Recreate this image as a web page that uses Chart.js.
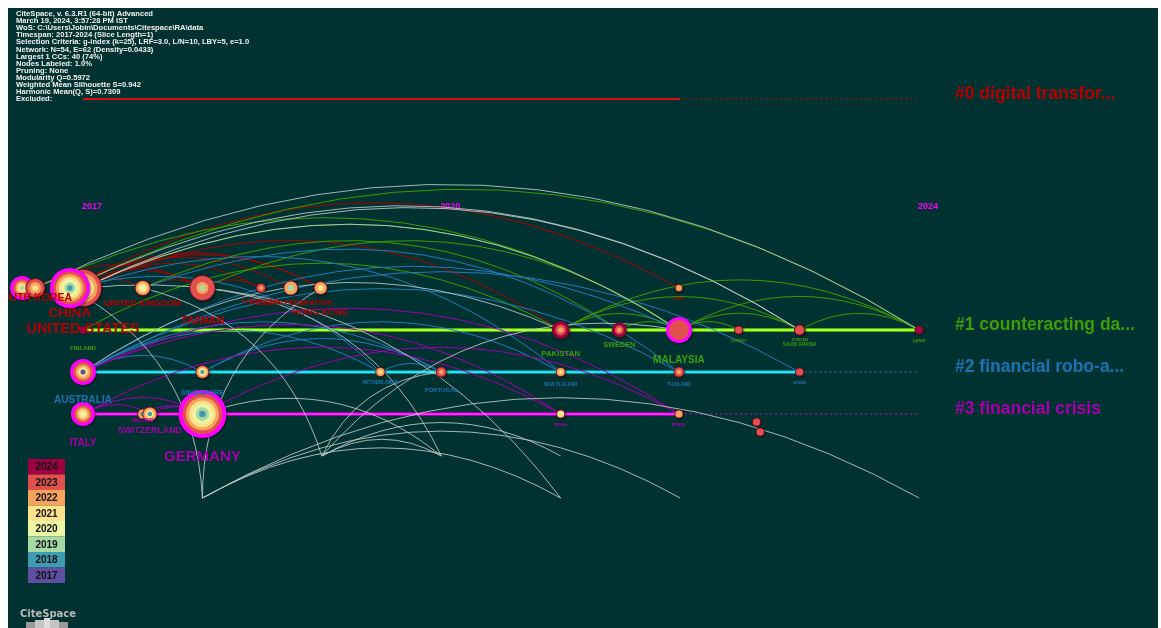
<!DOCTYPE html>
<html lang="en">
<head>
<meta charset="UTF-8">
<title>Country co-occurrence timeline 2017-2024</title>
<script src="https://cdn.jsdelivr.net/npm/chart.js"></script>
<style>
    body {
        margin: 0;
        background: #ffffff;
    }

    .chart-box {
        position: absolute;
        left: 8px;
        top: 8px;
        width: 1150px;
        height: 620px;
        background: #003232;
    }
</style>
</head>
<body>

<div class="chart-box">
    <canvas id="timelineChart"></canvas>
</div>

<script>
// time slices and their colours (oldest -> newest)
const sliceYears = [2017, 2018, 2019, 2020, 2021, 2022, 2023, 2024];
const sliceColors = ['#5e4fa2', '#3f9bb0', '#a6d9a3', '#ecf6a5', '#fde28c', '#f8a35c', '#e0514d', '#9e0142'];
const tickYears = [2017, 2020, 2024];

// clusters: label, lane, last year with a solid line
const clusterLabels = ['#0 digital transfor...', '#1 counteracting da...', '#2 financial robo-a...', '#3 financial crisis'];
const clusterLanes = [-4.5, 1, 2, 3];
const clusterSolidEnd = [2022, 2024, 2023, 2022];

// nodes (countries)
const nodeNames = ['u1', 'SOUTH KOREA', 'UNITED STATES', 'CHINA', 'UNITED KINGDOM', 'TAIWAN', 'KAZAKHSTAN',
    'RUSSIAN FEDERATION', 'HONG KONG', 'INDIA',
    'FINLAND', 'PAKISTAN', 'SWEDEN', 'MALAYSIA', 'TURKEY', 'JORDAN', 'SAUDI ARABIA', 'QATAR',
    'AUSTRALIA', 'SINGAPORE', 'NETHERLANDS', 'PORTUGAL', 'NEW ZEALAND', 'THAILAND', 'SPAIN',
    'ITALY', 'IRELAND', 'SWITZERLAND', 'GERMANY', 'ISRAEL', 'BRAZIL', 'u2', 'u3'];
const nodeYears = [2016.49, 2016.6, 2017.0, 2016.89, 2017.5, 2018.0, 2018.49,
    2018.74, 2018.99, 2021.99,
    2017.0, 2021.0, 2021.49, 2021.99, 2022.49, 2023.0, 2023.0, 2024.0,
    2017.0, 2018.0, 2019.49, 2020.0, 2021.0, 2021.99, 2023.0,
    2017.0, 2017.5, 2017.56, 2018.0, 2021.0, 2021.99, 2022.64, 2022.67];
const nodeLanes = [0, 0, 0, 0, 0, 0, 0,
    0, 0, 0,
    1, 1, 1, 1, 1, 1, 1, 1,
    2, 2, 2, 2, 2, 2, 2,
    3, 3, 3, 3, 3, 3, 3.19, 3.43];
const nodeSizes = [12, 10, 19, 20, 8, 13, 5,
    7.5, 7, 4,
    4, 9, 7.5, 13, 4.5, 5.5, 5.5, 4.5,
    13, 7, 5, 5.5, 5, 5.5, 4.5,
    12, 5.5, 7.5, 24, 4.5, 4.5, 4.5, 4.5];
// citation rings, outer (latest) to inner (earliest)
const nodeRings = [
    [2023, 2022, 2021, 2019], [2023, 2022, 2021], [2023, 2022, 2021, 2020, 2019], [2023, 2022, 2021, 2020, 2019, 2018],
    [2022, 2021, 2020], [2023, 2023, 2022, 2019], [2023, 2022], [2022, 2019], [2022, 2021], [2022],
    [2024], [2024, 2023, 2022], [2024, 2023, 2022], [2023], [2023], [2023], [2023], [2024],
    [2023, 2022, 2021, 2017], [2022, 2021, 2018], [2022, 2021], [2023, 2022], [2022, 2021], [2023, 2022], [2023],
    [2023, 2022, 2021, 2020], [2022, 2018], [2022, 2021, 2018], [2023, 2022, 2021, 2020, 2019, 2018],
    [2021], [2022], [2023], [2023]
];
const nodeBurst = [true, false, false, true, false, false, false, false, false, false,
    false, false, false, true, false, false, false, false,
    true, false, false, false, false, false, false,
    true, false, false, true, false, false, false, false];
const nodeCluster = [0, 0, 0, 0, 0, 0, 0, 0, 0, 0,
    1, 1, 1, 1, 1, 1, 1, 1,
    2, 2, 2, 2, 2, 2, 2,
    3, 3, 3, 3, 3, 3, 3, 3];

// link end points in the smaller clusters (lanes not shown)
const anchorNames = ['a1', 'a2', 'a3', 'a4', 'a5', 'a6', 'a7'];
const anchorYears = [2018, 2021, 2022, 2019, 2020, 2021, 2024];
const anchorLanes = [5, 5, 5, 4, 4, 4, 5];

// links: from, to, colour group (0-3 cluster, 4 between clusters)
const linkFrom = [
    'CHINA', 'CHINA', 'UNITED STATES', 'CHINA', 'UNITED STATES', 'CHINA', 'CHINA', 'UNITED KINGDOM', 'TAIWAN', 'UNITED STATES', 'SOUTH KOREA',
    'CHINA', 'UNITED STATES', 'SOUTH KOREA', 'UNITED KINGDOM', 'FINLAND', 'PAKISTAN', 'PAKISTAN', 'SWEDEN', 'MALAYSIA', 'MALAYSIA', 'MALAYSIA', 'SAUDI ARABIA', 'PAKISTAN', 'TAIWAN',
    'AUSTRALIA', 'AUSTRALIA', 'AUSTRALIA', 'AUSTRALIA', 'AUSTRALIA', 'AUSTRALIA', 'SINGAPORE', 'NETHERLANDS', 'UNITED STATES', 'CHINA', 'UNITED KINGDOM', 'SINGAPORE',
    'ITALY', 'ITALY', 'IRELAND', 'SWITZERLAND', 'AUSTRALIA', 'GERMANY', 'ITALY', 'AUSTRALIA',
    'CHINA', 'UNITED STATES', 'UNITED STATES', 'SOUTH KOREA', 'CHINA', 'a1', 'a1', 'a1', 'a4', 'a4', 'a4', 'a4', 'a1', 'TAIWAN', 'UNITED KINGDOM', 'GERMANY', 'AUSTRALIA', 'UNITED STATES'
];
const linkTo = [
    'UNITED KINGDOM', 'TAIWAN', 'KAZAKHSTAN', 'RUSSIAN FEDERATION', 'HONG KONG', 'HONG KONG', 'INDIA', 'TAIWAN', 'KAZAKHSTAN', 'PAKISTAN', 'TAIWAN',
    'QATAR', 'MALAYSIA', 'MALAYSIA', 'SWEDEN', 'PAKISTAN', 'MALAYSIA', 'SAUDI ARABIA', 'MALAYSIA', 'TURKEY', 'SAUDI ARABIA', 'QATAR', 'QATAR', 'QATAR', 'MALAYSIA',
    'SINGAPORE', 'NETHERLANDS', 'PORTUGAL', 'THAILAND', 'SPAIN', 'MALAYSIA', 'PORTUGAL', 'PORTUGAL', 'NEW ZEALAND', 'NETHERLANDS', 'THAILAND', 'NEW ZEALAND',
    'SWITZERLAND', 'GERMANY', 'GERMANY', 'GERMANY', 'ISRAEL', 'BRAZIL', 'ISRAEL', 'BRAZIL',
    'SAUDI ARABIA', 'MALAYSIA', 'SAUDI ARABIA', 'QATAR', 'a1', 'HONG KONG', 'a2', 'a3', 'a6', 'a5', 'PORTUGAL', 'MALAYSIA', 'a7', 'a5', 'a4', 'a5', 'PAKISTAN', 'a2'
];
const linkGroup = [
    0, 0, 0, 0, 0, 0, 0, 0, 0, 0, 0,
    1, 1, 1, 1, 1, 1, 1, 1, 1, 1, 1, 1, 1, 1,
    2, 2, 2, 2, 2, 2, 2, 2, 2, 2, 2, 2,
    3, 3, 3, 3, 3, 3, 3, 3,
    4, 4, 4, 4, 4, 4, 4, 4, 4, 4, 4, 4, 4, 4, 4, 4, 4, 4
];

const headerLines = [
    'CiteSpace, v. 6.3.R1 (64-bit) Advanced',
    'March 19, 2024, 3:57:28 PM IST',
    'WoS: C:\\Users\\Jobin\\Documents\\Citespace\\RA\\data',
    'Timespan: 2017-2024 (Slice Length=1)',
    'Selection Criteria: g-index (k=25), LRF=3.0, L/N=10, LBY=5, e=1.0',
    'Network: N=54, E=62 (Density=0.0433)',
    'Largest 1 CCs: 40 (74%)',
    'Nodes Labeled: 1.0%',
    'Pruning: None',
    'Modularity Q=0.5972',
    'Weighted Mean Silhouette S=0.942',
    'Harmonic Mean(Q, S)=0.7309',
    'Excluded:'
];

// ---- styles ----
const FONT = '"Liberation Sans", Arial, sans-serif';
const clusterTextColors = ['#b40000', '#3e9e0a', '#1a74b4', '#a800a8'];
const linkColors = ['#a80000', '#3c9c00', '#1f7cba', '#a000a8', 'rgba(196,204,204,0.85)'];
const laneStyles = [
    { outer: '#c00000', inner: '#ff1a1a', dash: '#7a1a1a', width: 2 },
    { outer: '#52b000', inner: '#a6ff40', dash: '#3c7a10', width: 4 },
    { outer: '#00a0b8', inner: '#30eef6', dash: '#1a6a9a', width: 3.5 },
    { outer: '#c000c0', inner: '#ff30ff', dash: '#8a208a', width: 3.5 }
];
// label font size, x shift, y shift below the node
const labelStyle = {
    'SOUTH KOREA': [10.5, -2, 10], 'UNITED STATES': [14.5, 0, 41], 'CHINA': [13.5, 0, 25],
    'UNITED KINGDOM': [8.7, 0, 16], 'TAIWAN': [11.3, 0, 33], 'KAZAKHSTAN': [5.6, 0, 13],
    'RUSSIAN FEDERATION': [7.3, 0, 15], 'HONG KONG': [8.9, 0, 25], 'INDIA': [4, 0, 11],
    'FINLAND': [5.9, 0, 18], 'PAKISTAN': [7.8, 0, 24], 'SWEDEN': [7.3, 0, 15], 'MALAYSIA': [10.1, 0, 30],
    'TURKEY': [3.8, 0, 11], 'JORDAN': [4, 0, 10], 'SAUDI ARABIA': [4.6, 0, 15], 'QATAR': [3.8, 0, 11],
    'AUSTRALIA': [10, 0, 28], 'SINGAPORE': [7.2, 0, 21], 'NETHERLANDS': [4.6, 0, 11], 'PORTUGAL': [5.9, 0, 18],
    'NEW ZEALAND': [4.5, 0, 13], 'THAILAND': [4.6, 0, 13], 'SPAIN': [4.2, 0, 11],
    'ITALY': [10, 0, 29], 'IRELAND': [4.9, 0, 7], 'SWITZERLAND': [8.8, 0, 17], 'GERMANY': [15, 0, 43],
    'ISRAEL': [3.9, 0, 11], 'BRAZIL': [3.9, 0, 11]
};

function sliceColor(year) {
    return sliceColors[sliceYears.indexOf(year)];
}

const pointNames = nodeNames.concat(anchorNames);
const pointYears = nodeYears.concat(anchorYears);
const pointLanes = nodeLanes.concat(anchorLanes);

function pointOf(chart, name) {
    const i = pointNames.indexOf(name);
    return {
        x: chart.scales.x.getPixelForValue(pointYears[i]),
        y: chart.scales.y.getPixelForValue(pointLanes[i])
    };
}

// everything under the nodes: header, lanes, year ticks, links
const backdropPlugin = {
    id: 'backdrop',
    beforeDatasetsDraw(chart) {
        const c = chart.ctx;
        const xs = chart.scales.x, ys = chart.scales.y;
        c.save();

        c.fillStyle = '#f2f2f2';
        c.font = 'bold 7.6px ' + FONT;
        c.textBaseline = 'middle';
        headerLines.forEach((t, i) => c.fillText(t, 8, 6 + i * 7.1));

        // cluster lanes
        clusterLanes.forEach((lane, k) => {
            const st = laneStyles[k];
            const y = ys.getPixelForValue(lane);
            const x0 = xs.getPixelForValue(2017);
            const x1 = xs.getPixelForValue(clusterSolidEnd[k]);
            const x2 = xs.getPixelForValue(2024);
            if (x2 > x1) {
                c.strokeStyle = st.dash;
                c.lineWidth = 1.5;
                c.setLineDash([2, 3]);
                c.beginPath(); c.moveTo(x1, y); c.lineTo(x2, y); c.stroke();
                c.setLineDash([]);
            }
            c.strokeStyle = st.outer;
            c.lineWidth = st.width;
            c.beginPath(); c.moveTo(x0, y); c.lineTo(x1, y); c.stroke();
            c.strokeStyle = st.inner;
            c.lineWidth = st.width / 2;
            c.beginPath(); c.moveTo(x0, y); c.lineTo(x1, y); c.stroke();
        });

        // year ticks
        c.fillStyle = '#ff00ff';
        c.font = 'bold 9px "Liberation Sans Narrow", ' + FONT;
        c.textAlign = 'center';
        tickYears.forEach(yr => c.fillText(String(yr), xs.getPixelForValue(yr) + 9, 199));

        // links as arcs bowing upward
        c.lineWidth = 1;
        linkFrom.forEach((f, i) => {
            let p = pointOf(chart, f), q = pointOf(chart, linkTo[i]);
            if (q.x < p.x) { const t = p; p = q; q = t; }
            const dx = q.x - p.x, dy = q.y - p.y;
            const cx = (p.x + q.x) / 2 + 0.28 * dy;
            const cy = (p.y + q.y) / 2 - 0.28 * dx;
            c.strokeStyle = linkColors[linkGroup[i]];
            c.beginPath();
            c.moveTo(p.x, p.y);
            c.quadraticCurveTo(cx, cy, q.x, q.y);
            c.stroke();
        });
        c.restore();
    },

    // nodes, labels, cluster names, slice legend, logo
    afterDatasetsDraw(chart) {
        const c = chart.ctx;
        const meta = chart.getDatasetMeta(0);
        c.save();

        meta.data.forEach((el, i) => {
            const r = nodeSizes[i];
            const rings = nodeRings[i];
            let rIn = r;
            c.shadowColor = 'rgba(0,0,0,0.45)';
            c.shadowOffsetX = 1;
            c.shadowOffsetY = 1;
            c.shadowBlur = 2;
            if (nodeBurst[i]) {
                c.fillStyle = '#ff00ff';
                c.beginPath(); c.arc(el.x, el.y, r, 0, Math.PI * 2); c.fill();
                rIn = r - Math.max(3, r * 0.17);
            } else {
                c.fillStyle = '#7a0d22';
                c.beginPath(); c.arc(el.x, el.y, r, 0, Math.PI * 2); c.fill();
                rIn = r - 0.9;
            }
            c.shadowColor = 'transparent';
            const n = rings.length;
            rings.forEach((yr, k) => {
                c.fillStyle = sliceColor(yr);
                c.beginPath(); c.arc(el.x, el.y, rIn * (n - k) / n, 0, Math.PI * 2); c.fill();
            });
        });

        c.textAlign = 'center';
        c.textBaseline = 'middle';
        meta.data.forEach((el, i) => {
            const st = labelStyle[nodeNames[i]];
            if (!st) return;
            c.font = 'bold ' + st[0] + 'px ' + FONT;
            c.fillStyle = clusterTextColors[nodeCluster[i]];
            c.fillText(nodeNames[i], el.x + st[1], el.y + st[2]);
        });

        // cluster names at the right end
        c.textAlign = 'left';
        c.font = 'bold 17.5px ' + FONT;
        clusterLabels.forEach((t, k) => {
            c.fillStyle = clusterTextColors[k];
            c.fillText(t, chart.scales.x.getPixelForValue(2024) + 36, chart.scales.y.getPixelForValue(clusterLanes[k]) - 5);
        });

        // slice colour key
        c.textAlign = 'center';
        c.font = 'bold 10px ' + FONT;
        const n = sliceYears.length;
        for (let k = 0; k < n; k++) {
            const idx = n - 1 - k;
            const y = 451 + k * 15.5;
            c.fillStyle = sliceColors[idx];
            c.fillRect(20, y, 37, 15.5);
            c.fillStyle = '#111111';
            c.fillText(String(sliceYears[idx]), 38.5, y + 8.3);
        }

        // logo
        c.font = 'bold 10px "DejaVu Sans", ' + FONT;
        c.fillStyle = '#b8b8b8';
        c.fillText('CiteSpace', 40, 606);
        c.fillStyle = '#9a9a9a';
        c.fillRect(18, 614, 42, 6);
        c.fillStyle = '#c4c4c4';
        c.fillRect(27, 612, 24, 8);
        c.fillStyle = '#dddddd';
        c.fillRect(36, 610, 6, 10);
        c.restore();
    }
};

new Chart(document.getElementById('timelineChart'), {
    type: 'bubble',
    data: {
        datasets: [{
            label: 'countries',
            data: nodeNames.map((n, i) => ({ x: nodeYears[i], y: nodeLanes[i], r: nodeSizes[i] })),
            backgroundColor: 'rgba(0,0,0,0)',
            borderWidth: 0
        }]
    },
    options: {
        responsive: true,
        maintainAspectRatio: false,
        animation: false,
        events: [],
        layout: { autoPadding: false, padding: { left: 75, right: 239, top: 0, bottom: 0 } },
        plugins: { legend: { display: false }, tooltip: { enabled: false } },
        scales: {
            x: { type: 'linear', min: 2017, max: 2024, display: false },
            y: { type: 'linear', min: -280 / 42, max: 340 / 42, reverse: true, display: false }
        }
    },
    plugins: [backdropPlugin]
});
</script>

</body>
</html>
